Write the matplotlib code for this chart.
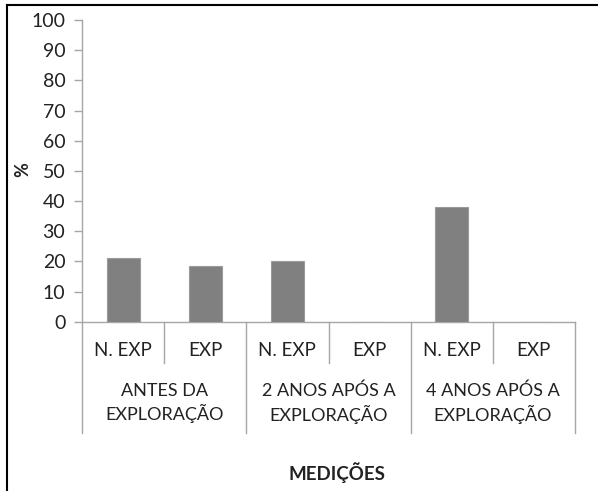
import matplotlib.pyplot as plt
import matplotlib.transforms as mtransforms

# data
groups = ['ANTES DA\nEXPLORAÇÃO', '2 ANOS APÓS A\nEXPLORAÇÃO', '4 ANOS APÓS A\nEXPLORAÇÃO']
subs = ['N. EXP', 'EXP', 'N. EXP', 'EXP', 'N. EXP', 'EXP']
values = [21.0, 18.6, 20.2, 0, 38.1, 0]

plt.rcParams['font.family'] = ['Lato', 'DejaVu Sans']
grey = '#a6a6a6'
txt = '#222222'

fig = plt.figure(figsize=(5.98, 4.91), dpi=100)
ax = fig.add_axes([82 / 598, 1 - 321.7 / 491, 493 / 598, 301.7 / 491])

x = [i + 0.5 for i in range(len(values))]
ax.bar(x, values, width=0.4, color='#808080', edgecolor='#9a9a9a', linewidth=0.8, zorder=3)

ax.set_xlim(0, 6)
ax.set_ylim(0, 100)
ax.set_yticks(range(0, 101, 10))
ax.set_xticks([])
ax.tick_params(axis='y', length=6, width=1, color=grey, labelsize=14, pad=6, labelcolor=txt)
for s in ['top', 'right']:
    ax.spines[s].set_visible(False)
for s in ['left', 'bottom']:
    ax.spines[s].set_color(grey)
    ax.spines[s].set_linewidth(1)

trans = mtransforms.blended_transform_factory(ax.transData, ax.transAxes)

# category separators below the axis
for i in range(7):
    bottom = -0.369 if i % 2 == 0 else -0.136
    ax.plot([i, i], [0, bottom], color=grey, lw=1, transform=trans, clip_on=False)

for i, lab in enumerate(subs):
    ax.text(i + 0.5, -0.094, lab, transform=trans, ha='center', va='center',
            fontsize=13.5, color=txt)
for j, lab in enumerate(groups):
    ax.text(2 * j + 1, -0.27, lab, transform=trans, ha='center', va='center',
            fontsize=13, linespacing=1.35, color=txt)

fig.text(23 / 598, 1 - 170 / 491, '%', rotation=90, ha='center', va='center',
         fontsize=13, fontweight='bold', color=txt)
fig.text(337 / 598, 1 - 473 / 491, 'MEDIÇÕES', ha='center', va='center',
         fontsize=13.5, fontweight='bold', color=txt)

# outer frame lines (top and left only)
fig.add_artist(plt.Line2D([7 / 598, 1], [1 - 5 / 491, 1 - 5 / 491], color='black', lw=1.5))
fig.add_artist(plt.Line2D([7 / 598, 7 / 598], [0, 1 - 5 / 491], color='black', lw=1.5))

fig.savefig('out.png', dpi=100)
